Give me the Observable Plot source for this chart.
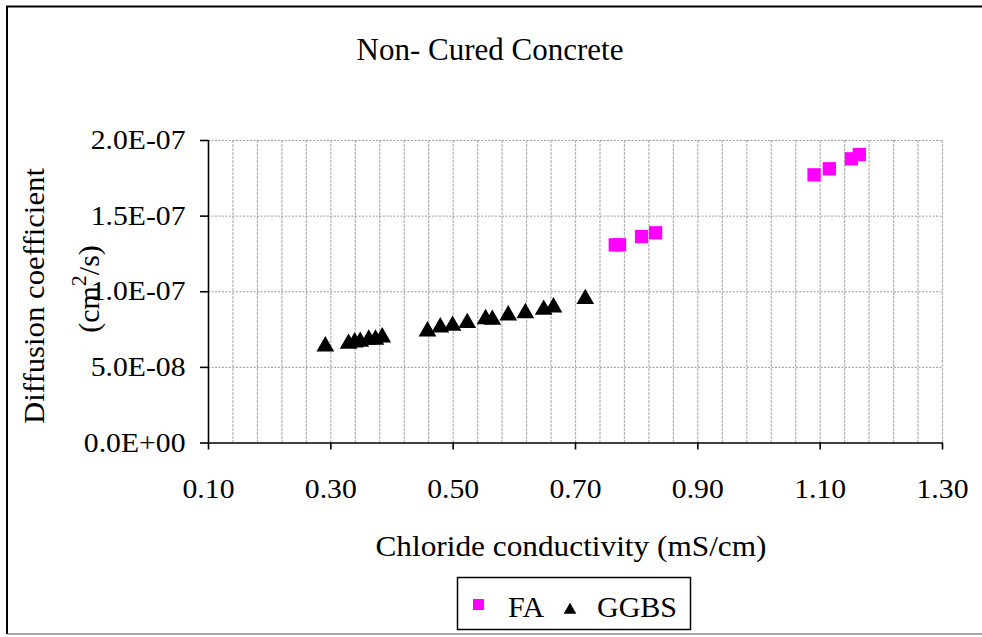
<!DOCTYPE html>
<html><head><meta charset="utf-8">
<script src="https://cdn.jsdelivr.net/npm/d3@7"></script>
<script src="https://cdn.jsdelivr.net/npm/@observablehq/plot@0.6"></script>
<style>
body{margin:0;background:#fff;}
#chart{position:relative;width:982px;height:637px;}
</style></head><body><div id="chart"></div>
<script>
// ---- data ----
const title = "Non- Cured Concrete";
const xTitle = "Chloride conductivity (mS/cm)";
const yTitle1 = "Diffusion coefficient";
const seriesNames = ["FA", "GGBS"];
const faX = [0.765, 0.772, 0.808, 0.831, 1.090, 1.115, 1.151, 1.164];
const faY = [1.31e-7, 1.31e-7, 1.365e-7, 1.39e-7, 1.773e-7, 1.813e-7, 1.879e-7, 1.907e-7];
const ggbsX = [0.291, 0.329, 0.339, 0.348, 0.362, 0.373, 0.384, 0.458, 0.479, 0.499, 0.523, 0.553, 0.564, 0.590, 0.618, 0.648, 0.664, 0.716];
const ggbsY = [6.56e-8, 6.73e-8, 6.82e-8, 6.86e-8, 7.0e-8, 7.0e-8, 7.15e-8, 7.55e-8, 7.81e-8, 7.92e-8, 8.1e-8, 8.36e-8, 8.32e-8, 8.61e-8, 8.76e-8, 8.98e-8, 9.14e-8, 9.69e-8];
const xTicks = [0.1, 0.3, 0.5, 0.7, 0.9, 1.1, 1.3];
const xTickLabels = ["0.10", "0.30", "0.50", "0.70", "0.90", "1.10", "1.30"];
const yTicks = [0, 5e-8, 1e-7, 1.5e-7, 2e-7];
const yTickLabels = ["0.0E+00", "5.0E-08", "1.0E-07", "1.5E-07", "2.0E-07"];
const xGridStep = 0.04;

const fa = faX.map((x, i) => ({x, y: faY[i]}));
const ggbs = ggbsX.map((x, i) => ({x, y: ggbsY[i]}));
const xGrid = d3.range(1, 31).map(i => +(0.1 + xGridStep * i).toFixed(2));

const FONT = "'Liberation Serif', 'Times New Roman', serif";

const plot = Plot.plot({
  width: 982, height: 637,
  marginLeft: 208, marginRight: 40, marginTop: 140, marginBottom: 194.5,
  style: {fontFamily: FONT, background: "transparent", color: "#000", overflow: "visible"},
  x: {domain: [0.1, 1.3]},
  y: {domain: [0, 2e-7]},
  marks: [
    Plot.gridX(xGrid, {stroke: "#b4b4b4", strokeOpacity: 1, strokeWidth: 1.2, strokeDasharray: "3,1"}),
    Plot.gridY(yTicks.slice(1), {stroke: "#9a9a9a", strokeOpacity: 1, strokeWidth: 1, strokeDasharray: "2,1.5"}),
    Plot.ruleY([0], {stroke: "#000", strokeWidth: 1.6}),
    Plot.ruleX([0.1], {stroke: "#000", strokeWidth: 1.6}),
    Plot.axisX(xTicks, {tickFormat: d => xTickLabels[xTicks.indexOf(d)], tickSize: 7, tickPadding: 29, fontSize: 27, label: null, strokeWidth: 1.6}),
    Plot.axisY(yTicks, {tickFormat: d => yTickLabels[yTicks.indexOf(d)], tickSize: 8, tickPadding: 15, fontSize: 27, label: null, strokeWidth: 1.6}),
    Plot.dot(ggbs, {x: "x", y: "y", symbol: "triangle", r: 6.6, fill: "#000", stroke: "none", dy: 2.5}),
    Plot.dot(fa, {x: "x", y: "y", symbol: "square", r: 7.5, fill: "#ff00ff", stroke: "none"})
  ]
});
document.getElementById("chart").appendChild(plot);

const svg = d3.select(plot);
// stretch tick labels slightly to match reference glyph widths
svg.selectAll("g[aria-label='x-axis tick label'] text, g[aria-label='y-axis tick label'] text").each(function() {
  const L = this.getComputedTextLength();
  d3.select(this).attr("textLength", L * 1.1).attr("lengthAdjust", "spacingAndGlyphs");
});

const g = svg.append("g").attr("font-family", FONT).attr("fill", "#000");
// outer frame (left, top, bottom)
g.append("path").attr("d", "M7,634 L7,6.5 L982,6.5").attr("fill", "none").attr("stroke", "#000").attr("stroke-width", 2);
g.append("line").attr("x1", 7).attr("x2", 982).attr("y1", 634).attr("y2", 634).attr("stroke", "#555").attr("stroke-width", 1.2);

// title
g.append("text").attr("x", 490).attr("y", 60).attr("text-anchor", "middle").attr("font-size", 31).text(title);
// x title
g.append("text").attr("x", 571).attr("y", 556).attr("text-anchor", "middle").attr("font-size", 30)
  .attr("textLength", 391).attr("lengthAdjust", "spacingAndGlyphs").text(xTitle);
// y title
g.append("text").attr("transform", "translate(44,296) rotate(-90)").attr("text-anchor", "middle").attr("font-size", 30)
  .attr("textLength", 256).attr("lengthAdjust", "spacingAndGlyphs").text(yTitle1);
const t2 = g.append("text").attr("transform", "translate(99,289) rotate(-90)").attr("text-anchor", "middle").attr("font-size", 30);
t2.append("tspan").text("(cm");
t2.append("tspan").attr("dy", -13).attr("font-size", 22).text("2");
t2.append("tspan").attr("dy", 13).text("/s)");

// legend
const lg = g.append("g");
lg.append("rect").attr("x", 457.5).attr("y", 577.5).attr("width", 233).attr("height", 52).attr("fill", "#fff").attr("stroke", "#000").attr("stroke-width", 1.5);
lg.append("rect").attr("x", 473).attr("y", 599).attr("width", 11).attr("height", 11).attr("fill", "#ff00ff");
lg.append("path").attr("transform", "translate(570,610)").attr("d", d3.symbol(d3.symbolTriangle, 70)()).attr("fill", "#000");
lg.append("text").attr("x", 508).attr("y", 617).attr("text-anchor", "start").attr("font-size", 30).text(seriesNames[0]);
lg.append("text").attr("x", 597).attr("y", 617).attr("text-anchor", "start").attr("font-size", 30).text(seriesNames[1]);
</script></body></html>
